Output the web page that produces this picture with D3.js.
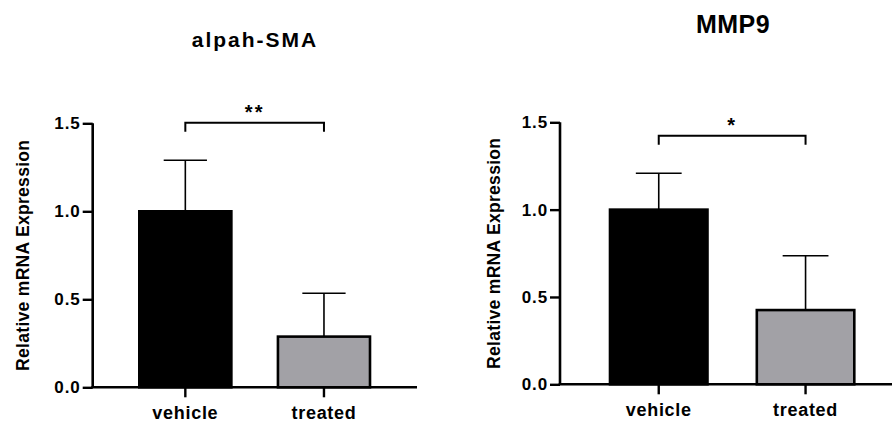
<!DOCTYPE html>
<html>
<head>
<meta charset="utf-8">
<script src="https://cdn.jsdelivr.net/npm/d3@7"></script>
<style>
  body { margin: 0; background: #fff; }
  text { font-family: "Liberation Sans", Arial, sans-serif; font-weight: bold; fill: #000; }
</style>
</head>
<body>
<div id="chart"></div>
<script>
// data
var categories = ["vehicle", "treated"];
var yTicks = [0, 0.5, 1.0, 1.5];

var smaMean = [1.0, 0.288];
var smaSD = [0.29, 0.246];
var smaSig = "**";
var smaBracket = 1.503;

var mmpMean = [1.0, 0.425];
var mmpSD = [0.208, 0.311];
var mmpSig = "*";
var mmpBracket = 1.423;

var barColors = ["#000000", "#a2a1a6"];

var svg = d3.select("#chart")
  .append("svg")
    .attr("width", 892)
    .attr("height", 421);

// one panel = one small bar chart with SD bars and a significance bracket
function drawPanel(p) {
  var y = d3.scaleLinear().domain([0, 1.5]).range([p.y0, p.y1]);
  var x = d3.scaleBand()
    .domain(categories)
    .range([p.barLeft, p.barRight])
    .paddingInner(0.336)
    .paddingOuter(0);
  var bw = x.bandwidth();

  var g = svg.append("g");

  var rows = categories.map(function (c, i) {
    return { name: c, mean: p.mean[i], sd: p.sd[i], color: barColors[i] };
  });

  // error bars (upper half only, drawn first so the bar hides the rest)
  g.selectAll(".err")
    .data(rows)
    .enter()
    .append("line")
    .attr("x1", function (d) { return x(d.name) + bw / 2; })
    .attr("x2", function (d) { return x(d.name) + bw / 2; })
    .attr("y1", function (d) { return y(d.mean); })
    .attr("y2", function (d) { return y(d.mean + d.sd); })
    .attr("stroke", "#000")
    .attr("stroke-width", 1.6);
  g.selectAll(".cap")
    .data(rows)
    .enter()
    .append("line")
    .attr("x1", function (d) { return x(d.name) + bw / 2 - bw * 0.235; })
    .attr("x2", function (d) { return x(d.name) + bw / 2 + bw * 0.235; })
    .attr("y1", function (d) { return y(d.mean + d.sd); })
    .attr("y2", function (d) { return y(d.mean + d.sd); })
    .attr("stroke", "#000")
    .attr("stroke-width", 1.6);

  g.selectAll(".bar")
    .data(rows)
    .enter()
    .append("rect")
    .attr("x", function (d) { return x(d.name); })
    .attr("y", function (d) { return y(d.mean); })
    .attr("width", bw)
    .attr("height", function (d) { return y(0) - y(d.mean); })
    .attr("fill", function (d) { return d.color; })
    .attr("stroke", "#000")
    .attr("stroke-width", 2.6);

  // y axis
  var yAxis = g.append("g")
    .attr("transform", "translate(" + p.axisX + ",0)")
    .call(d3.axisLeft(y).tickValues(yTicks).tickFormat(d3.format(".1f")).tickSize(10).tickPadding(2));
  yAxis.select(".domain").attr("stroke-width", 2.6).attr("d", "M0," + y(1.5) + "V" + y(0));
  yAxis.selectAll(".tick line").attr("stroke-width", 2.4);
  yAxis.selectAll(".tick text")
    .attr("font-size", 17)
    .attr("letter-spacing", 0.9)
    .attr("font-family", "Liberation Sans, Arial, sans-serif")
    .attr("font-weight", "bold")
    .attr("fill", "#000");

  // x axis
  var xAxis = g.append("g")
    .attr("transform", "translate(0," + y(0) + ")")
    .call(d3.axisBottom(x).tickSize(10).tickPadding(9));
  xAxis.select(".domain").remove();
  xAxis.selectAll(".tick line").attr("stroke-width", 2.4);
  xAxis.selectAll(".tick text")
    .attr("font-size", 18)
    .attr("letter-spacing", 0.7)
    .attr("font-family", "Liberation Sans, Arial, sans-serif")
    .attr("font-weight", "bold")
    .attr("fill", "#000");
  g.append("line")
    .attr("x1", p.axisX - 1.3)
    .attr("x2", p.axisEnd)
    .attr("y1", y(0))
    .attr("y2", y(0))
    .attr("stroke", "#000")
    .attr("stroke-width", 2.6);

  // y axis title
  g.append("text")
    .attr("transform", "translate(" + p.labelX + "," + (y(0) + y(1.5)) / 2 + ") rotate(-90)")
    .attr("text-anchor", "middle")
    .attr("font-size", 17.5)
    .attr("letter-spacing", 0.3)
    .text("Relative mRNA Expression");

  // significance bracket
  var bx1 = x(categories[0]) + bw / 2;
  var bx2 = x(categories[1]) + bw / 2;
  var by = y(p.bracket);
  g.append("path")
    .attr("d", "M" + bx1 + "," + (by + 9) + "V" + by + "H" + bx2 + "V" + (by + 9))
    .attr("fill", "none")
    .attr("stroke", "#000")
    .attr("stroke-width", 2);
  g.append("text")
    .attr("x", (bx1 + bx2) / 2)
    .attr("y", by - 4)
    .attr("text-anchor", "middle")
    .attr("font-size", 20)
    .attr("font-weight", "normal")
    .attr("letter-spacing", 2)
    .text(p.sig);

  // title
  g.append("text")
    .attr("x", p.titleX)
    .attr("y", p.titleY)
    .attr("text-anchor", "middle")
    .attr("font-size", p.titleSize)
    .attr("letter-spacing", p.titleSpacing)
    .text(p.title);
}

drawPanel({
  title: "alpah-SMA", titleX: 255, titleY: 46.5, titleSize: 21, titleSpacing: 2,
  mean: smaMean, sd: smaSD, sig: smaSig, bracket: smaBracket,
  y0: 387.3, y1: 123.3, axisX: 92.7, axisEnd: 417,
  barLeft: 139.3, barRight: 370, labelX: 29
});

drawPanel({
  title: "MMP9", titleX: 733, titleY: 33.3, titleSize: 25, titleSpacing: 0.5,
  mean: mmpMean, sd: mmpSD, sig: mmpSig, bracket: mmpBracket,
  y0: 384.3, y1: 122.3, axisX: 560, axisEnd: 892,
  barLeft: 610, barRight: 854.3, labelX: 500
});
</script>
</body>
</html>
